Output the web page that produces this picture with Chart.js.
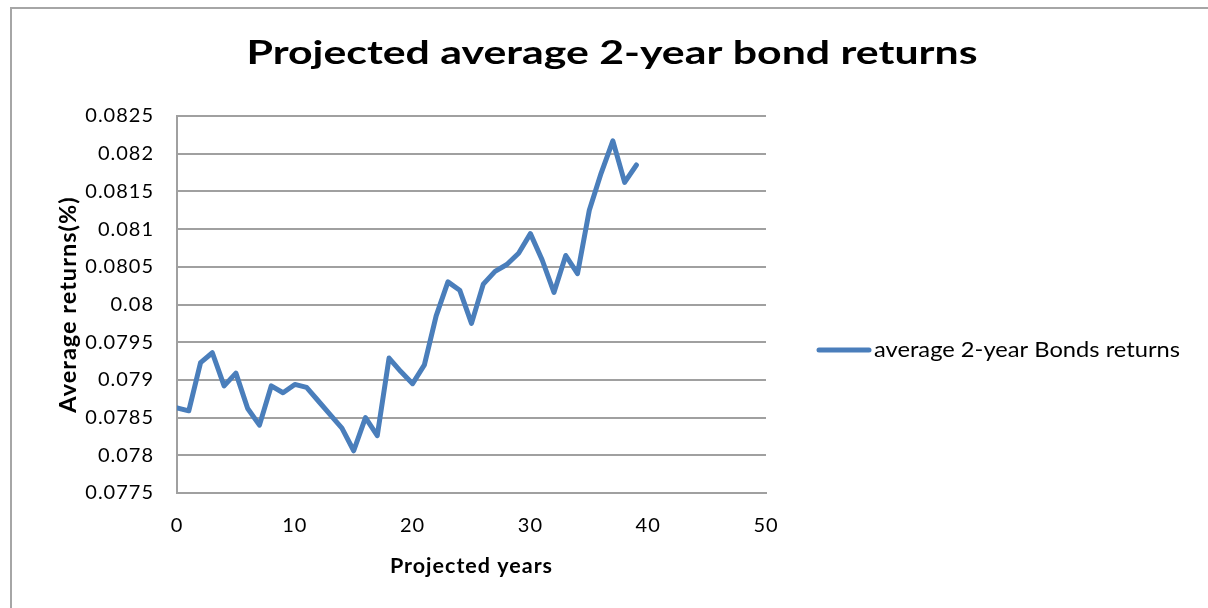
<!DOCTYPE html>
<html>
<head>
<meta charset="utf-8">
<script src="https://cdn.jsdelivr.net/npm/chart.js@4.4.0/dist/chart.umd.min.js"></script>
<style>
  html, body { margin: 0; padding: 0; background: #fff; }
  #wrap { position: relative; width: 1208px; height: 608px; overflow: hidden; }
  #frame { position: absolute; left: 10px; top: 7px; width: 1300px; height: 700px;
           border-left: 2px solid #a6a6a6; border-top: 2px solid #a6a6a6; }
  canvas { position: absolute; left: 0; top: 0; }
</style>
</head>
<body>
<div id="wrap">
  <div id="frame"></div>
  <canvas id="chart" width="1208" height="608"></canvas>
</div>
<script>
const years = [];
for (let i = 0; i < 40; i++) years.push(i);

const bondReturns = [
  0.07863, 0.07859, 0.07923, 0.07936, 0.07892, 0.07909, 0.07862, 0.07840,
  0.07892, 0.07883, 0.07894, 0.07890, 0.07872, 0.07854, 0.07836, 0.07806,
  0.07850, 0.07826, 0.07929, 0.07911, 0.07895, 0.07920, 0.07985, 0.08030,
  0.08019, 0.07975, 0.08027, 0.08044, 0.08053, 0.08068, 0.08094, 0.08059,
  0.08016, 0.08065, 0.08041, 0.08125, 0.08174, 0.08217, 0.08162, 0.08185
];

const seriesName = 'average 2-year Bonds returns';
const chartTitle = 'Projected average 2-year bond returns';
const xTitle = 'Projected years';
const yTitle = 'Average returns(%)';

const FONT = 'Lato, "Open Sans", sans-serif';
const blue = '#4a7ebb';
const gridGray = '#a0a0a0';

// draw text stretched to a given width
function fitText(ctx, txt, x, y, width, font, align) {
  ctx.save();
  ctx.letterSpacing = '0px';
  ctx.font = font;
  const w = ctx.measureText(txt).width;
  ctx.translate(x, y);
  ctx.scale(width / w, 1);
  ctx.textAlign = align;
  ctx.fillText(txt, 0, 0);
  ctx.restore();
}

// the original text is set a bit wide
const spacing = {
  id: 'spacing',
  beforeDraw(chart) { chart.ctx.letterSpacing = '1px'; }
};

// title and legend drawn by hand
const extras = {
  id: 'extras',
  afterDraw(chart) {
    const ctx = chart.ctx;
    const ds = chart.data.datasets[0];
    ctx.save();
    ctx.fillStyle = '#000';
    ctx.textBaseline = 'alphabetic';
    fitText(ctx, chartTitle, 612, 64, 731, 'bold 33px ' + FONT, 'center');

    const y = 350;
    ctx.strokeStyle = ds.borderColor;
    ctx.lineWidth = 5;
    ctx.lineCap = 'round';
    ctx.beginPath();
    ctx.moveTo(819, y);
    ctx.lineTo(869, y);
    ctx.stroke();
    fitText(ctx, ds.label, 874, 357, 306, '22px ' + FONT, 'left');
    ctx.restore();
  }
};

new Chart(document.getElementById('chart'), {
  type: 'line',
  data: {
    labels: years,
    datasets: [{
      label: seriesName,
      data: years.map((x, i) => ({ x: x, y: bondReturns[i] })),
      borderColor: blue,
      backgroundColor: blue,
      borderWidth: 5,
      borderJoinStyle: 'round',
      borderCapStyle: 'round',
      pointRadius: 0,
      tension: 0,
      fill: false
    }]
  },
  options: {
    responsive: false,
    animation: false,
    layout: { padding: { left: 10, right: 442, top: 116, bottom: 10 } },
    plugins: {
      legend: { display: false },
      tooltip: { enabled: false },
      title: { display: false }
    },
    scales: {
      x: {
        type: 'linear',
        min: 0,
        max: 50,
        ticks: { stepSize: 10, color: '#000', padding: 21, font: { family: FONT, size: 20 } },
        grid: { display: false, drawTicks: false },
        border: { display: true, color: gridGray, width: 2 },
        title: { display: true, text: xTitle, color: '#000',
                 font: { family: FONT, size: 21.5, weight: 'bold' }, padding: { top: 0, bottom: 19 } },
        afterFit(s) { s.height = 105; }
      },
      y: {
        min: 0.0775,
        max: 0.0825,
        ticks: {
          stepSize: 0.0005,
          color: '#000',
          padding: 23,
          font: { family: FONT, size: 20 },
          callback: v => String(+v.toFixed(4))
        },
        grid: { color: gridGray, lineWidth: 2, drawTicks: false },
        border: { display: true, color: gridGray, width: 2 },
        title: { display: true, text: yTitle, color: '#000',
                 font: { family: FONT, size: 23.5, weight: 'bold' }, padding: { top: 44, bottom: 0 } },
        afterFit(s) { s.width = 167; }
      }
    }
  },
  plugins: [spacing, extras]
});
</script>
</body>
</html>
